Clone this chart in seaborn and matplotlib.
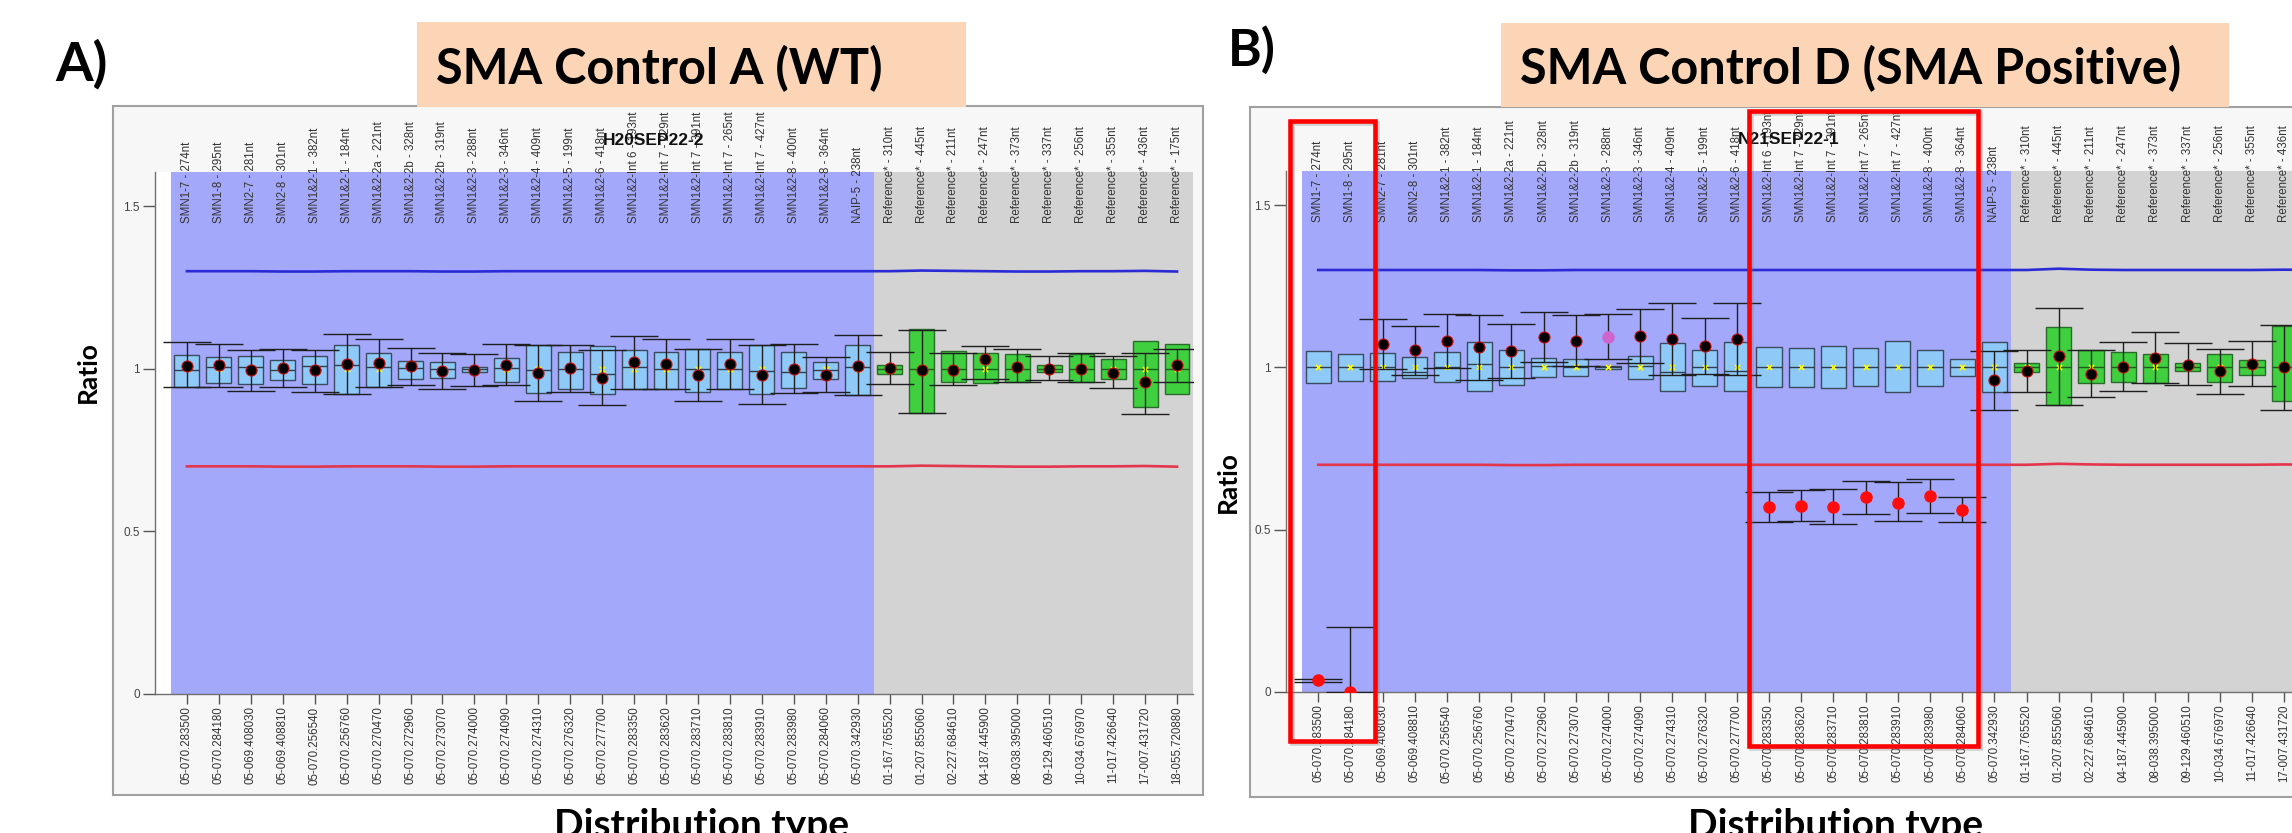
import numpy as np
import pandas as pd
import matplotlib
matplotlib.use("Agg")
import matplotlib.pyplot as plt
import matplotlib.transforms as mtrans
from matplotlib.patches import Rectangle
import seaborn as sns

plt.rcParams['font.family'] = ['Liberation Sans', 'DejaVu Sans']

# ---------------- data ----------------
top_labels = [
    "SMN1-7 - 274nt", "SMN1-8 - 295nt", "SMN2-7 - 281nt", "SMN2-8 - 301nt",
    "SMN1&2-1 - 382nt", "SMN1&2-1 - 184nt", "SMN1&2-2a - 221nt", "SMN1&2-2b - 328nt",
    "SMN1&2-2b - 319nt", "SMN1&2-3 - 288nt", "SMN1&2-3 - 346nt", "SMN1&2-4 - 409nt",
    "SMN1&2-5 - 199nt", "SMN1&2-6 - 418nt", "SMN1&2-Int 6 - 193nt", "SMN1&2-Int 7 - 229nt",
    "SMN1&2-Int 7 - 391nt", "SMN1&2-Int 7 - 265nt", "SMN1&2-Int 7 - 427nt", "SMN1&2-8 - 400nt",
    "SMN1&2-8 - 364nt", "NAIP-5 - 238nt",
    "Reference* - 310nt", "Reference* - 445nt", "Reference* - 211nt", "Reference* - 247nt",
    "Reference* - 373nt", "Reference* - 337nt", "Reference* - 256nt", "Reference* - 355nt",
    "Reference* - 436nt", "Reference* - 175nt",
]
bottom_labels = [
    "05-070.283500", "05-070.284180", "05-069.408030", "05-069.408810", "05-070.256540",
    "05-070.256760", "05-070.270470", "05-070.272960", "05-070.273070", "05-070.274000",
    "05-070.274090", "05-070.274310", "05-070.276320", "05-070.277700", "05-070.283350",
    "05-070.283620", "05-070.283710", "05-070.283810", "05-070.283910", "05-070.283980",
    "05-070.284060", "05-070.342930",
    "01-167.765520", "01-207.855060", "02-227.684610", "04-187.445900", "08-038.395000",
    "09-129.460510", "10-034.676970", "11-017.426640", "17-007.431720", "18-055.720880",
]
probe_group = ["target"] * 22 + ["reference"] * 10

# Panel A (H20SEP22-2, WT)
a_box_hi = [1.043, 1.036, 1.040, 1.028, 1.040, 1.072, 1.048, 1.024, 1.021, 1.005, 1.033,
            1.072, 1.051, 1.071, 1.058, 1.053, 1.061, 1.053, 1.072, 1.051, 1.020, 1.074,
            1.011, 1.122, 1.054, 1.048, 1.045, 1.012, 1.045, 1.030, 1.085, 1.077]
a_box_lo = [0.945, 0.956, 0.954, 0.964, 0.952, 0.923, 0.943, 0.970, 0.972, 0.991, 0.960,
            0.925, 0.939, 0.923, 0.937, 0.939, 0.930, 0.937, 0.922, 0.941, 0.970, 0.918,
            0.983, 0.865, 0.959, 0.955, 0.958, 0.990, 0.958, 0.968, 0.883, 0.923]
a_box_med = [0.995, 1.004, 1.005, 0.995, 1.007, 1.011, 1.004, 1.003, 1.000, 0.999, 1.001,
             0.995, 0.999, 0.983, 1.004, 0.999, 0.999, 0.999, 0.993, 0.990, 0.995, 1.005,
             1.000, 1.000, 1.000, 1.000, 1.000, 1.000, 1.000, 1.000, 1.000, 1.000]
a_box_mean = [1.000, 1.000, 1.000, 1.000, 1.000, 1.000, 1.000, 1.000, 1.000, 1.000, 1.000,
              1.000, 1.000, 1.000, 1.000, 1.000, 1.000, 1.000, 1.000, 1.000, 1.000, 1.000,
              1.000, 1.000, 1.000, 1.000, 1.000, 1.000, 1.000, 1.000, 1.000, 1.000]
a_dot = [1.010, 1.012, 0.995, 1.002, 0.995, 1.015, 1.017, 1.009, 0.992, 0.995, 1.013,
         0.988, 1.002, 0.973, 1.020, 1.015, 0.981, 1.014, 0.980, 1.000, 0.982, 1.009,
         1.002, 0.995, 0.995, 1.030, 1.005, 1.000, 1.000, 0.986, 0.960, 1.013]
a_err_hi = [1.081, 1.077, 1.058, 1.060, 1.058, 1.107, 1.091, 1.064, 1.047, 1.045, 1.075,
            1.072, 1.074, 1.058, 1.100, 1.091, 1.061, 1.093, 1.072, 1.075, 1.035, 1.104,
            1.052, 1.120, 1.050, 1.070, 1.060, 1.040, 1.050, 1.040, 1.050, 1.060]
a_err_lo = [0.943, 0.945, 0.932, 0.945, 0.930, 0.923, 0.943, 0.950, 0.937, 0.948, 0.950,
            0.901, 0.929, 0.889, 0.937, 0.939, 0.901, 0.937, 0.893, 0.927, 0.930, 0.918,
            0.953, 0.865, 0.950, 0.970, 0.960, 0.965, 0.960, 0.940, 0.860, 0.960]
a_status = ["ok"] * 32
a_upper = [1.300, 1.300, 1.300, 1.299, 1.299, 1.300, 1.300, 1.300, 1.299, 1.299, 1.300,
           1.300, 1.300, 1.300, 1.300, 1.300, 1.300, 1.300, 1.300, 1.300, 1.300, 1.300,
           1.300, 1.302, 1.301, 1.300, 1.299, 1.299, 1.300, 1.300, 1.301, 1.299]
a_lower = [0.700, 0.700, 0.700, 0.699, 0.699, 0.700, 0.700, 0.700, 0.699, 0.699, 0.700,
           0.700, 0.700, 0.700, 0.700, 0.700, 0.700, 0.700, 0.700, 0.700, 0.700, 0.700,
           0.700, 0.702, 0.701, 0.700, 0.699, 0.699, 0.700, 0.700, 0.701, 0.699]

# Panel B (N21SEP22-1, SMA positive)
b_box_hi = [1.049, 1.041, 1.044, 1.031, 1.046, 1.077, 1.053, 1.029, 1.026, 1.005, 1.036,
            1.074, 1.053, 1.077, 1.062, 1.059, 1.065, 1.059, 1.080, 1.055, 1.026, 1.079,
            1.015, 1.123, 1.053, 1.048, 1.041, 1.013, 1.041, 1.024, 1.128, 1.080]
b_box_lo = [0.953, 0.959, 0.957, 0.967, 0.954, 0.926, 0.947, 0.971, 0.974, 0.995, 0.964,
            0.926, 0.944, 0.926, 0.939, 0.941, 0.935, 0.942, 0.923, 0.944, 0.972, 0.923,
            0.985, 0.885, 0.951, 0.954, 0.951, 0.988, 0.956, 0.977, 0.895, 0.920]
b_box_med = [1.000, 1.000, 1.000, 0.985, 1.000, 1.010, 1.000, 1.005, 1.000, 1.000, 1.005,
             0.985, 1.000, 0.990, 1.000, 1.000, 1.000, 1.000, 1.000, 1.000, 1.000, 1.000,
             1.000, 1.000, 1.000, 1.000, 1.000, 1.000, 1.000, 1.000, 1.000, 1.000]
b_box_mean = [1.000, 1.000, 1.000, 1.000, 1.000, 1.000, 1.000, 1.000, 1.000, 1.000, 1.000,
              1.000, 1.000, 1.000, 1.000, 1.000, 1.000, 1.000, 1.000, 1.000, 1.000, 1.000,
              1.000, 1.000, 1.000, 1.000, 1.000, 1.000, 1.000, 1.000, 1.000, 1.000]
b_dot = [0.036, 0.000, 1.072, 1.053, 1.080, 1.062, 1.051, 1.094, 1.082, 1.094, 1.097,
         1.087, 1.065, 1.087, 0.569, 0.574, 0.569, 0.600, 0.583, 0.603, 0.561, 0.961,
         0.990, 1.036, 0.979, 1.002, 1.029, 1.008, 0.988, 1.010, 1.000, 1.000]
b_err_hi = [0.040, 0.200, 1.149, 1.128, 1.164, 1.162, 1.135, 1.172, 1.161, 1.166, 1.180,
            1.198, 1.151, 1.197, 0.615, 0.623, 0.626, 0.651, 0.646, 0.655, 0.600, 1.050,
            1.054, 1.182, 1.053, 1.079, 1.108, 1.074, 1.058, 1.080, 1.131, 1.060]
b_err_lo = [0.032, 0.000, 0.995, 0.978, 0.997, 0.962, 0.967, 1.016, 1.003, 1.026, 1.014,
            0.976, 0.979, 0.977, 0.523, 0.528, 0.518, 0.549, 0.526, 0.551, 0.523, 0.870,
            0.925, 0.885, 0.908, 0.926, 0.951, 0.946, 0.918, 0.944, 0.870, 0.940]
b_status = ["del", "del", "ok", "ok", "ok", "ok", "ok", "ok", "ok", "flag", "ok",
            "ok", "ok", "ok", "del", "del", "del", "del", "del", "del", "del", "ok",
            "ok", "ok", "ok", "ok", "ok", "ok", "ok", "ok", "ok", "ok"]
b_upper = [1.300, 1.300, 1.300, 1.300, 1.300, 1.300, 1.299, 1.299, 1.300, 1.300, 1.300,
           1.300, 1.300, 1.300, 1.300, 1.300, 1.300, 1.300, 1.300, 1.300, 1.300, 1.300,
           1.300, 1.304, 1.301, 1.300, 1.300, 1.300, 1.300, 1.300, 1.301, 1.300]
b_lower = [0.700, 0.700, 0.700, 0.700, 0.700, 0.700, 0.699, 0.699, 0.700, 0.700, 0.700,
           0.700, 0.700, 0.700, 0.700, 0.700, 0.700, 0.700, 0.700, 0.700, 0.700, 0.700,
           0.700, 0.703, 0.701, 0.700, 0.700, 0.700, 0.700, 0.700, 0.701, 0.700]

y_ticks = [0, 0.5, 1, 1.5]
y_tick_labels = ["0", "0.5", "1", "1.5"]

# ---------------- figure ----------------
W, H = 2292, 833
fig = plt.figure(figsize=(W / 100, H / 100), dpi=100)
fig.patch.set_facecolor("white")


def fx(px):
    return px / W


def fy(py):
    return 1 - py / H


def frame(x0, y0, x1, y1):
    r = Rectangle((fx(x0), fy(y1)), fx(x1) - fx(x0), fy(y0) - fy(y1),
                  transform=fig.transFigure, facecolor="#f7f7f7",
                  edgecolor="#a0a0a0", lw=1.5, zorder=-5)
    fig.patches.append(r)


frame(113, 106, 1203, 795)
frame(1250, 107, 2330, 797)

BLUE_BG = "#a4a8fa"
GRAY_BG = "#d3d3d3"
BOX_BLUE = "#8ec9f7"
BOX_GREEN = "#3fcf3f"


def draw_panel(ax, box_hi, box_lo, box_med, box_mean, dot, err_hi, err_lo, status,
               upper, lower, sample_name):
    n = len(top_labels)
    n_blue = probe_group.count("target")
    pos = np.arange(n)
    ax.set_facecolor("white")
    ax.set_xlim(-1.0, n - 0.5)
    ax.set_ylim(0, 1.605)
    ax.axvspan(-0.5, n_blue - 0.5, color=BLUE_BG, lw=0, zorder=0)
    ax.axvspan(n_blue - 0.5, n - 0.5, color=GRAY_BG, lw=0, zorder=0)

    thr = pd.DataFrame({"pos": pos, "upper": upper, "lower": lower})
    sns.lineplot(data=thr, x="pos", y="upper", color="#2b2bd6", lw=1.9, ax=ax, zorder=2)
    sns.lineplot(data=thr, x="pos", y="lower", color="#e3354c", lw=1.9, ax=ax, zorder=2)

    stats = [dict(med=m, q1=lo, q3=hi, whislo=lo, whishi=hi, fliers=[])
             for m, lo, hi in zip(box_med, box_lo, box_hi)]
    bp = ax.bxp(stats, positions=pos, widths=0.78, patch_artist=True,
                showcaps=False, showfliers=False, manage_ticks=False)
    for i, b in enumerate(bp["boxes"]):
        if probe_group[i] == "target":
            b.set_facecolor(BOX_BLUE)
            b.set_edgecolor("#3b4a5c")
        else:
            b.set_facecolor(BOX_GREEN)
            b.set_edgecolor("#2a6a2a")
        b.set_linewidth(1.0)
        b.set_zorder(3)
    for i, m in enumerate(bp["medians"]):
        m.set_color("#2f3d4d" if probe_group[i] == "target" else "#1f5a1f")
        m.set_linewidth(1.0)
        m.set_zorder(3.1)
    for w in bp["whiskers"]:
        w.set_visible(False)

    sns.scatterplot(x=pos, y=box_mean, marker="x", color="#ffff00", s=14,
                    linewidth=1.2, ax=ax, zorder=3.5, legend=False)

    d = np.array(dot)
    ax.errorbar(pos, d, yerr=[d - np.array(err_lo), np.array(err_hi) - d], fmt="none",
                ecolor="#1e1e1e", elinewidth=1.0, capsize=17, capthick=1.0, zorder=4)

    df = pd.DataFrame({"pos": pos, "dot": dot, "status": status})
    styles = {"ok": ("#000000", "#c81414", 0.8), "del": ("#ff0d0d", "#ff0d0d", 1.0),
              "flag": ("#cf64cf", "#cf64cf", 1.0)}
    for st, (fc, ec, lw) in styles.items():
        sub = df[df["status"] == st]
        if len(sub):
            sns.scatterplot(data=sub, x="pos", y="dot", color=fc, edgecolor=ec,
                            linewidth=lw, s=64, ax=ax, zorder=5, legend=False)

    ax.set_xlabel("")
    ax.set_ylabel("")
    ax.set_xticks(pos)
    ax.set_xticklabels(bottom_labels, rotation=90)
    ax.set_yticks(y_ticks)
    ax.set_yticklabels(y_tick_labels)
    ax.tick_params(axis="x", length=7, width=1, color="#555555", labelsize=8.3,
                   labelcolor="#333333", pad=2)
    ax.tick_params(axis="y", length=9, width=1, color="#555555", labelsize=8.5,
                   labelcolor="#444444", pad=2)
    for s in ["top", "right"]:
        ax.spines[s].set_visible(False)
    for s in ["left", "bottom"]:
        ax.spines[s].set_color("#707070")
        ax.spines[s].set_linewidth(1.0)

    tr = mtrans.blended_transform_factory(ax.transData, ax.transAxes)
    for i, lab in enumerate(top_labels):
        ax.text(pos[i], 0.902, lab, transform=tr, rotation=90, ha="center", va="bottom",
                fontsize=8.3, color="#333333", clip_on=False, zorder=6)
    ax.text(14.6, 1.06, sample_name, transform=tr, ha="center", va="center",
            fontsize=12.5, fontweight="bold", color="#111111", clip_on=False, zorder=7)


axA = fig.add_axes([fx(155), fy(694), fx(1193) - fx(155), fy(172) - fy(694)])
draw_panel(axA, a_box_hi, a_box_lo, a_box_med, a_box_mean, a_dot, a_err_hi, a_err_lo,
           a_status, a_upper, a_lower, "H20SEP22-2")

axB = fig.add_axes([fx(1286), fy(692), fx(1286 + 32.5 * 32.2) - fx(1286), fy(171) - fy(692)])
draw_panel(axB, b_box_hi, b_box_lo, b_box_med, b_box_mean, b_dot, b_err_hi, b_err_lo,
           b_status, b_upper, b_lower, "N21SEP22-1")

# ---------------- annotations ----------------
TITLE_FONT = ["Lato", "DejaVu Sans"]


def title_box(x0, y0, x1, y1, text, tx):
    r = Rectangle((fx(x0), fy(y1)), fx(x1) - fx(x0), fy(y0) - fy(y1),
                  transform=fig.transFigure, facecolor="#fbd5b5", edgecolor="none",
                  zorder=10)
    fig.patches.append(r)
    fig.text(fx(tx), fy(84), text, ha="left", va="baseline", fontsize=35,
             fontweight="bold", family=TITLE_FONT, color="black", zorder=11)


title_box(417, 22, 966, 107, "SMA Control A (WT)", 436)
title_box(1501, 23, 2229, 107, "SMA Control D (SMA Positive)", 1520)

fig.text(fx(81), fy(64), "A)", ha="center", va="center", fontsize=39, fontweight="bold",
         family=TITLE_FONT, zorder=11)
fig.text(fx(1252), fy(50), "B)", ha="center", va="center", fontsize=37, fontweight="bold",
         family=TITLE_FONT, zorder=11)

fig.text(fx(88), fy(372), "Ratio", rotation=90, ha="center", va="center", fontsize=19,
         fontweight="bold", family=TITLE_FONT, zorder=11)
fig.text(fx(1228), fy(482), "Ratio", rotation=90, ha="center", va="center", fontsize=19,
         fontweight="bold", family=TITLE_FONT, zorder=11)

fig.text(fx(702), fy(837), "Distribution type", ha="center", va="baseline", fontsize=28,
         fontweight="bold", family=TITLE_FONT, zorder=11)
fig.text(fx(1836), fy(837), "Distribution type", ha="center", va="baseline", fontsize=28,
         fontweight="bold", family=TITLE_FONT, zorder=11)


def red_rect(x0, y0, x1, y1):
    shadow = Rectangle((fx(x0 + 2), fy(y1 + 2)), fx(x1) - fx(x0), fy(y0) - fy(y1),
                       transform=fig.transFigure, facecolor="none", edgecolor="#777777",
                       lw=3.3, alpha=0.3, zorder=11.5)
    fig.patches.append(shadow)
    r = Rectangle((fx(x0), fy(y1)), fx(x1) - fx(x0), fy(y0) - fy(y1),
                  transform=fig.transFigure, facecolor="none", edgecolor="#ff0000",
                  lw=3.3, zorder=12)
    fig.patches.append(r)


red_rect(1290, 121, 1375, 741)
red_rect(1749, 111, 1978, 746)

fig.savefig("out.png", dpi=100)
